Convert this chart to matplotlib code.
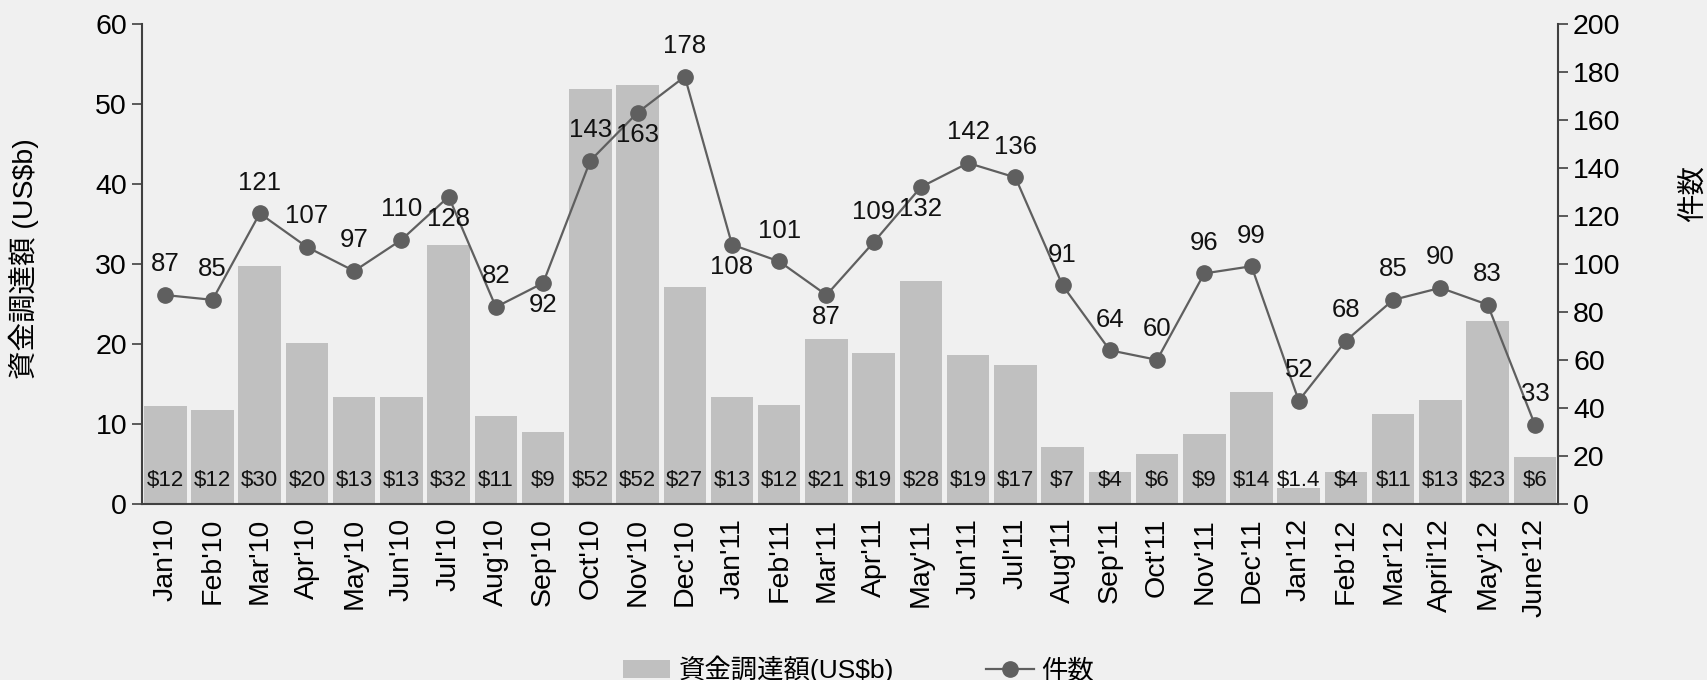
"""資金調達額（棒）と件数（折れ線）の月次推移チャート。"""

import matplotlib

matplotlib.use("Agg")
import matplotlib.pyplot as plt
import numpy as np

plt.rcParams["font.family"] = ["Liberation Sans", "Noto Sans CJK JP", "DejaVu Sans"]

# --- data -------------------------------------------------------------------
MONTHS = [
    "Jan'10", "Feb'10", "Mar'10", "Apr'10", "May'10", "Jun'10", "Jul'10",
    "Aug'10", "Sep'10", "Oct'10", "Nov'10", "Dec'10", "Jan'11", "Feb'11",
    "Mar'11", "Apr'11", "May'11", "Jun'11", "Jul'11", "Aug'11", "Sep'11",
    "Oct'11", "Nov'11", "Dec'11", "Jan'12", "Feb'12", "Mar'12", "April'12",
    "May'12", "June'12",
]
# 資金調達額 (US$b) — 棒の高さ
AMOUNT = [
    12.2, 11.7, 29.7, 20.1, 13.3, 13.4, 32.4, 11.0, 9.0, 51.9,
    52.4, 27.1, 13.3, 12.4, 20.6, 18.9, 27.9, 18.6, 17.4, 7.1,
    4.0, 6.2, 8.7, 14.0, 2.0, 4.0, 11.2, 13.0, 22.8, 5.9,
]
AMOUNT_LABELS = [
    "$12", "$12", "$30", "$20", "$13", "$13", "$32", "$11", "$9", "$52",
    "$52", "$27", "$13", "$12", "$21", "$19", "$28", "$19", "$17", "$7",
    "$4", "$6", "$9", "$14", "$1.4", "$4", "$11", "$13", "$23", "$6",
]
# 件数 — 折れ線の値とラベル（Jan'12 は点とラベルが一致しない）
COUNT = [
    87, 85, 121, 107, 97, 110, 128, 82, 92, 143,
    163, 178, 108, 101, 87, 109, 132, 142, 136, 91,
    64, 60, 96, 99, 43, 68, 85, 90, 83, 33,
]
COUNT_LABELS = [
    "87", "85", "121", "107", "97", "110", "128", "82", "92", "143",
    "163", "178", "108", "101", "87", "109", "132", "142", "136", "91",
    "64", "60", "96", "99", "52", "68", "85", "90", "83", "33",
]
# ラベルを点の下に置くもの
BELOW = {"Jul'10", "Sep'10", "Nov'10", "Jan'11", "Mar'11", "May'11"}

BG = "#f0f0f0"
BAR_C = "#c0c0c0"
LINE_C = "#5f5f5f"
AX_C = "#404040"

fig = plt.figure(figsize=(17.07, 6.8), dpi=100, facecolor=BG)
ax = fig.add_axes([0.083, 0.259, 0.830, 0.706], facecolor=BG)
ax2 = ax.twinx()

x = np.arange(len(MONTHS))
bars = ax.bar(x, AMOUNT, width=0.9, color=BAR_C, edgecolor="none",
              label="資金調達額(US$b)", zorder=1)
for xi, lab in zip(x, AMOUNT_LABELS):
    ax.annotate(lab, (xi, 0), xytext=(0, 17), textcoords="offset points",
                ha="center", va="center", fontsize=16, color="#111111")

(line,) = ax2.plot(x, COUNT, "-o", color=LINE_C, lw=1.6, markersize=11,
                   label="件数", zorder=3)
for xi, m, val, lab in zip(x, MONTHS, COUNT, COUNT_LABELS):
    dy = -16 if m in BELOW else 22
    ax2.annotate(lab, (xi, val), xytext=(0, dy), textcoords="offset points",
                 ha="center", va="center", fontsize=18.5, color="#111111")

ax.set_xlim(-0.5, len(MONTHS) - 0.5)
ax.set_ylim(0, 60)
ax2.set_ylim(0, 200)
ax.set_yticks(np.arange(0, 61, 10))
ax2.set_yticks(np.arange(0, 201, 20))
ax.set_xticks(x)
ax.set_xticklabels(MONTHS, rotation=90, fontsize=20.5)
ax.tick_params(axis="x", length=0, pad=10)
ax.tick_params(axis="y", labelsize=20.5, length=7, width=1.2, color=AX_C)
ax2.tick_params(axis="y", labelsize=20.5, length=7, width=1.2, color=AX_C)

for a in (ax, ax2):
    a.spines["top"].set_visible(False)
    for s in ("left", "right", "bottom"):
        a.spines[s].set_color(AX_C)
        a.spines[s].set_linewidth(1.5)
ax.spines["right"].set_visible(False)
ax2.spines["left"].set_visible(False)
ax2.spines["bottom"].set_visible(False)

fig.text(0.014, 0.62, "資金調達額 (US$b)", rotation=90, ha="center",
         va="center", fontsize=20.5)
fig.text(0.992, 0.715, "件数", rotation=90, ha="center", va="center",
         fontsize=20.5)

fig.legend([bars, line], ["資金調達額(US$b)", "件数"], loc="lower center",
           bbox_to_anchor=(0.503, -0.04), ncol=2, frameon=False,
           fontsize=19, columnspacing=3.5, handlelength=1.8, handletextpad=0.3)

fig.savefig("out.png", dpi=100, facecolor=BG)
